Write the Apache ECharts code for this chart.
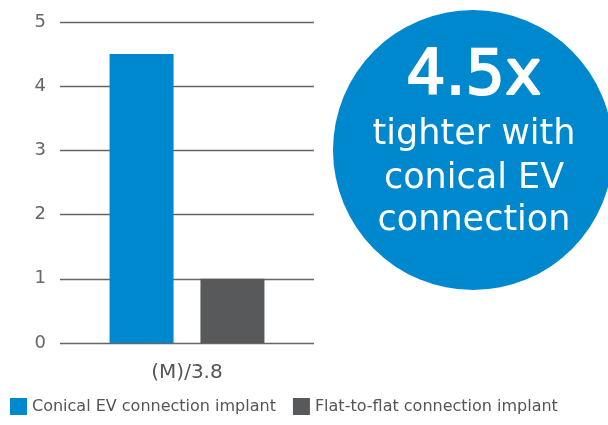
<!DOCTYPE html>
<html><head><meta charset="utf-8">
<script src="https://cdn.jsdelivr.net/npm/echarts@6/dist/echarts.min.js"></script>
<style>html,body{margin:0;padding:0;background:#fff}#c{width:608px;height:425px}</style>
</head><body><div id="c"></div>
<script>
const categories = ['(M)/3.8'];
const seriesNames = ['Conical EV connection implant', 'Flat-to-flat connection implant'];
const conicalValues = [4.5];
const flatValues = [1];
const yTicks = [0, 1, 2, 3, 4, 5];
const calloutLines = ['4.5x', 'tighter with', 'conical EV', 'connection'];

const FONT = 'DejaVu Sans';
const chart = echarts.init(document.getElementById('c'), null, {renderer: 'canvas'});
chart.setOption({
  animation: false,
  textStyle: {fontFamily: FONT},
  grid: {left: 60, right: 294, top: 22, bottom: 82, containLabel: false},
  legend: {
    left: 5, bottom: 5, itemWidth: 17, itemHeight: 17, itemGap: 17,
    icon: 'rect',
    textStyle: {fontFamily: FONT, fontSize: 16, color: '#555'},
    data: seriesNames
  },
  xAxis: {
    type: 'category', data: categories,
    axisLine: {show: false}, axisTick: {show: false},
    axisLabel: {fontFamily: FONT, fontSize: 20, color: '#555', margin: 20}
  },
  yAxis: {
    type: 'value', min: yTicks[0], max: yTicks[yTicks.length - 1], interval: 1,
    axisLine: {show: false}, axisTick: {show: false},
    axisLabel: {fontFamily: FONT, fontSize: 18, color: '#666', margin: 14},
    splitLine: {lineStyle: {color: '#666', width: 1.3}}
  },
  series: [
    {name: seriesNames[0], type: 'bar', data: conicalValues, barWidth: 64, barGap: '42%', itemStyle: {color: '#0088CE'}},
    {name: seriesNames[1], type: 'bar', data: flatValues, barWidth: 64, itemStyle: {color: '#58595B'}}
  ],
  graphic: [
    {type: 'circle', shape: {cx: 473, cy: 150, r: 140}, style: {fill: '#0088CE'}, z: 10},
    {type: 'text', x: 474, y: 78, z: 11, style: {text: calloutLines[0], fill: '#fff', stroke: '#fff', lineWidth: 2, font: '62px "' + FONT + '"', align: 'center', verticalAlign: 'middle'}},
    {type: 'text', x: 474, y: 135, z: 11, style: {text: calloutLines[1], fill: '#fff', font: '35px "' + FONT + '"', align: 'center', verticalAlign: 'middle'}},
    {type: 'text', x: 474, y: 179, z: 11, style: {text: calloutLines[2], fill: '#fff', font: '35px "' + FONT + '"', align: 'center', verticalAlign: 'middle'}},
    {type: 'text', x: 474, y: 221, z: 11, style: {text: calloutLines[3], fill: '#fff', font: '35px "' + FONT + '"', align: 'center', verticalAlign: 'middle'}}
  ]
});
</script></body></html>
